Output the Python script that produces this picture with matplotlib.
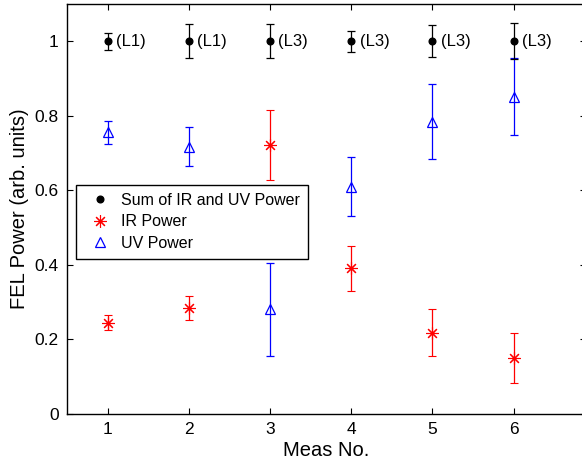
import matplotlib
matplotlib.use("Agg")
import matplotlib.pyplot as plt
from matplotlib.lines import Line2D

plt.rcParams['font.family'] = ['Liberation Sans', 'DejaVu Sans']

meas = [1, 2, 3, 4, 5, 6]
sum_power = [1.0, 1.0, 1.0, 1.0, 1.0, 1.0]
sum_err = [0.023, 0.045, 0.045, 0.028, 0.043, 0.049]
ir_power = [0.244, 0.284, 0.721, 0.390, 0.217, 0.150]
ir_err = [0.020, 0.033, 0.094, 0.061, 0.063, 0.068]
uv_power = [0.755, 0.717, 0.280, 0.610, 0.784, 0.851]
uv_err = [0.030, 0.052, 0.125, 0.080, 0.101, 0.104]
lasers = ['(L1)', '(L1)', '(L3)', '(L3)', '(L3)', '(L3)']
xticks = [1, 2, 3, 4, 5, 6]
yticks = [0, 0.2, 0.4, 0.6, 0.8, 1.0]
yticklabels = ['0', '0.2', '0.4', '0.6', '0.8', '1']

fig = plt.figure(figsize=(5.82, 4.71), dpi=100)
ax = fig.add_axes([67/582, (471-413.7)/471, (586-67)/582, (413.7-4)/471])

ekw = dict(linestyle='none', capsize=3.2, elinewidth=0.9, capthick=0.9)
ax.errorbar(meas, ir_power, yerr=ir_err, color='#ff0000', marker=(8, 2, 0),
            markersize=9, markeredgewidth=0.8, **ekw)
ax.errorbar(meas, uv_power, yerr=uv_err, color='#0000ff', marker='^',
            markersize=7.5, markerfacecolor='none', markeredgewidth=0.9, **ekw)
ax.errorbar(meas, sum_power, yerr=sum_err, color='black', marker='o',
            markersize=4.8, **ekw)

for x, y, t in zip(meas, sum_power, lasers):
    ax.annotate(t, (x, y), xytext=(6, 0), textcoords='offset points',
                ha='left', va='center', fontsize=12)

ax.set_xlim(0.5, 6.89)
ax.set_ylim(0, 1.1)
ax.set_xticks(xticks)
ax.set_yticks(yticks)
ax.set_yticklabels(yticklabels)
ax.tick_params(direction='in', top=True, right=True, labelsize=12.5,
               length=4, width=0.8, pad=6)
for s in ax.spines.values():
    s.set_linewidth(1.0)
ax.set_xlabel('Meas No.', fontsize=14.5, labelpad=3)
ax.set_ylabel('FEL Power (arb. units)', fontsize=14.5, labelpad=4)

handles = [
    Line2D([], [], color='black', marker='o', markersize=4.8, linestyle='none'),
    Line2D([], [], color='#ff0000', marker=(8, 2, 0), markersize=9,
           markeredgewidth=0.8, linestyle='none'),
    Line2D([], [], color='#0000ff', marker='^', markersize=7.5,
           markerfacecolor='none', markeredgewidth=0.9, linestyle='none'),
]
leg = ax.legend(handles, ['Sum of IR and UV Power', 'IR Power', 'UV Power'],
                loc='upper left', bbox_to_anchor=(76/582, 1 - 185/471),
                bbox_transform=fig.transFigure, fontsize=11.5, fancybox=False,
                framealpha=1, edgecolor='black', borderpad=0.5,
                labelspacing=0.4, handletextpad=0.3, handlelength=2.0,
                borderaxespad=0)
leg.get_frame().set_linewidth(1.0)

fig.savefig('out.png', dpi=100)
